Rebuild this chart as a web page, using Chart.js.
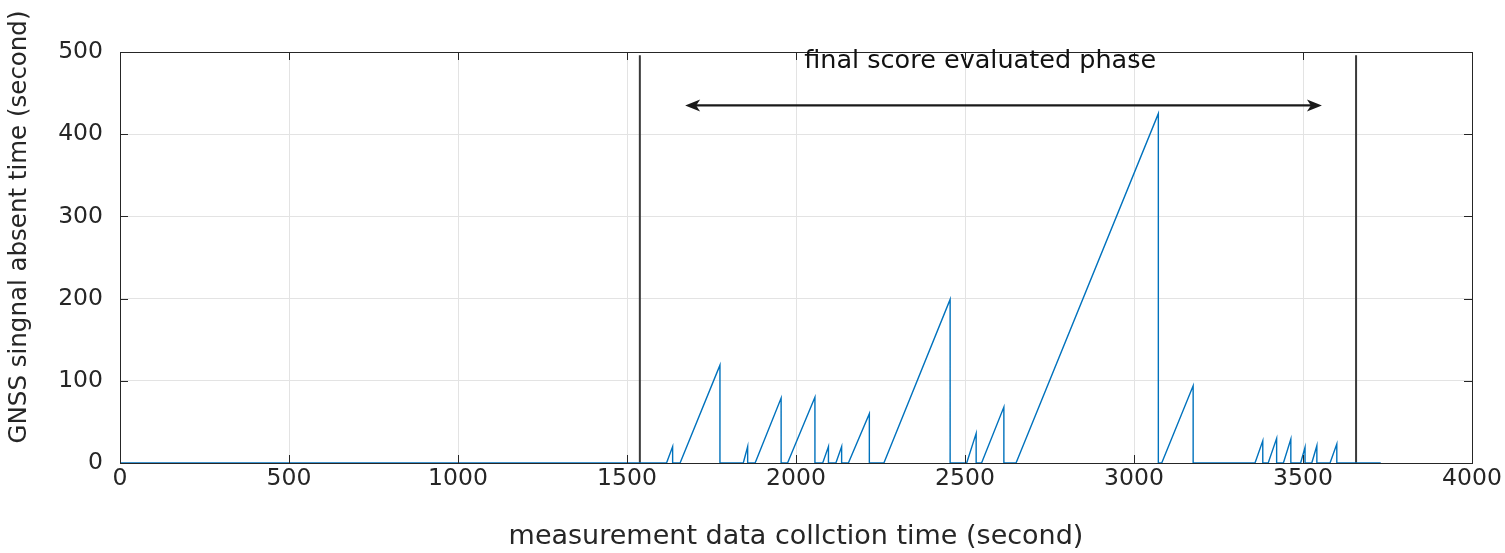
<!DOCTYPE html>
<html>
<head>
<meta charset="utf-8">
<script src="https://cdn.jsdelivr.net/npm/chart.js@4/dist/chart.umd.min.js"></script>
<style>
  html, body { margin: 0; padding: 0; background: #fff; }
  #wrap { width: 1505px; height: 553px; }
</style>
</head>
<body>
<div id="wrap"><canvas id="absentChart"></canvas></div>
<script>
// each outage: the time the ramp starts, the time it peaks and the peak value
const rampStart = [1617, 1657, 1844, 1879, 1975, 2079, 2118, 2155, 2260, 2505, 2549, 2651, 3082, 3358, 3397, 3442, 3493, 3526, 3580];
const rampPeak  = [1635, 1775, 1857, 1956, 2056, 2096, 2135, 2217, 2456, 2533, 2615, 3072, 3175, 3381, 3422, 3464, 3506, 3541, 3600];
const peakValue = [20, 119, 20, 79, 80, 20, 20, 60, 199, 36, 68, 425, 94, 27, 30, 29, 19, 21, 23];
const recordEnd = 3730;

// phase markers and the evaluated-phase arrow
const phaseLines = [1538, 3657];
const phaseLineTop = 496;
const arrowFrom = 1672;
const arrowTo = 3556;
const arrowLevel = 435;
const phaseLabel = 'final score evaluated phase';
const labelAt = [2545, 489];

const xTicks = [0, 500, 1000, 1500, 2000, 2500, 3000, 3500, 4000];
const yTicks = [0, 100, 200, 300, 400, 500];
const yTitle = 'GNSS singnal absent time (second)';

const FONT = '"DejaVu Sans", "Liberation Sans", Arial, sans-serif';
const TEXT = '#262626';

// sawtooth: flat at zero, ramp up, drop straight back down
let absentPts = [{x: 0, y: 0}];
rampStart.forEach((s, i) => {
    absentPts.push({x: s, y: 0});
    absentPts.push({x: rampPeak[i], y: peakValue[i]});
    absentPts.push({x: rampPeak[i], y: 0});
});
absentPts.push({x: recordEnd, y: 0});

const markerSets = phaseLines.map(t => ({
    data: [{x: t, y: 0}, {x: t, y: phaseLineTop}],
    borderColor: '#3a3a3a',
    borderWidth: 2,
    pointRadius: 0,
    order: 2
}));

// box, inward tick marks, arrow, caption and the y label
const matlabAxes = {
    id: 'matlabAxes',
    afterDatasetsDraw(chart) {
        const {ctx, chartArea: a, scales: {x, y}} = chart;
        ctx.save();
        ctx.strokeStyle = TEXT;
        ctx.lineWidth = 1;
        ctx.beginPath();
        xTicks.forEach(v => {
            const px = Math.round(x.getPixelForValue(v)) + 0.5;
            ctx.moveTo(px, a.bottom); ctx.lineTo(px, a.bottom - 8);
            ctx.moveTo(px, a.top); ctx.lineTo(px, a.top + 8);
        });
        yTicks.forEach(v => {
            const py = Math.round(y.getPixelForValue(v)) + 0.5;
            ctx.moveTo(a.left, py); ctx.lineTo(a.left + 8, py);
            ctx.moveTo(a.right, py); ctx.lineTo(a.right - 8, py);
        });
        ctx.stroke();
        ctx.strokeRect(a.left + 0.5, a.top + 0.5, a.right - a.left, a.bottom - a.top);

        // double headed arrow
        const ay = y.getPixelForValue(arrowLevel);
        const x1 = x.getPixelForValue(arrowFrom);
        const x2 = x.getPixelForValue(arrowTo);
        ctx.strokeStyle = '#1a1a1a';
        ctx.fillStyle = '#1a1a1a';
        ctx.lineWidth = 2.2;
        ctx.beginPath();
        ctx.moveTo(x1 + 6, ay); ctx.lineTo(x2 - 6, ay);
        ctx.stroke();
        const head = (tip, dir) => {
            ctx.beginPath();
            ctx.moveTo(tip, ay);
            ctx.lineTo(tip - dir * 15, ay - 6);
            ctx.lineTo(tip - dir * 11, ay);
            ctx.lineTo(tip - dir * 15, ay + 6);
            ctx.closePath();
            ctx.fill();
        };
        head(x1, -1);
        head(x2, 1);

        ctx.fillStyle = '#111';
        ctx.font = '25.5px ' + FONT;
        ctx.textAlign = 'center';
        ctx.textBaseline = 'middle';
        ctx.fillText(phaseLabel, x.getPixelForValue(labelAt[0]), y.getPixelForValue(labelAt[1]));

        // y label sits a bit above the middle of the axis
        ctx.fillStyle = TEXT;
        ctx.font = '24.5px ' + FONT;
        ctx.translate(20, 227);
        ctx.rotate(-Math.PI / 2);
        ctx.fillText(yTitle, 0, 0);
        ctx.restore();
    }
};

const absentCtx = document.getElementById('absentChart').getContext('2d');
const absentChart = new Chart(absentCtx, {
    type: 'line',
    data: {
        datasets: [{
            label: 'absent time',
            data: absentPts,
            borderColor: '#0072BD',
            borderWidth: 1.4,
            pointRadius: 0,
            tension: 0,
            order: 1
        }, ...markerSets]
    },
    options: {
        responsive: true,
        maintainAspectRatio: false,
        animation: false,
        layout: { padding: { top: 52, right: 33, left: 0, bottom: 0 } },
        plugins: {
            legend: { display: false },
            tooltip: { enabled: false }
        },
        scales: {
            x: {
                type: 'linear',
                min: 0,
                max: 4000,
                afterFit: s => { s.height = 90; },
                afterBuildTicks: s => { s.ticks = xTicks.map(v => ({value: v})); },
                grid: { color: '#e3e3e3', drawTicks: false },
                border: { color: TEXT },
                ticks: {
                    color: TEXT, padding: 2, maxRotation: 0,
                    font: { family: FONT, size: 23.5 },
                    callback: v => String(v)
                },
                title: {
                    display: true,
                    text: 'measurement data collction time (second)',
                    color: TEXT,
                    padding: { top: 0, bottom: 0 },
                    font: { family: FONT, size: 27 }
                }
            },
            y: {
                min: 0,
                max: 500,
                afterFit: s => { s.width = 120; },
                afterBuildTicks: s => { s.ticks = yTicks.map(v => ({value: v})); },
                grid: { color: '#e3e3e3', drawTicks: false },
                border: { color: TEXT },
                ticks: {
                    color: TEXT, padding: 17,
                    font: { family: FONT, size: 23.5 },
                    callback: v => String(v)
                }
            }
        }
    },
    plugins: [matlabAxes]
});
</script>
</body>
</html>
